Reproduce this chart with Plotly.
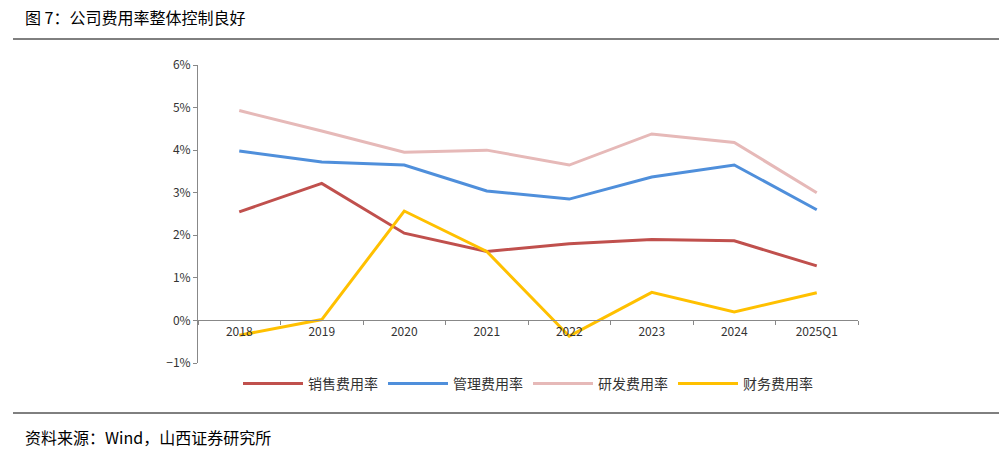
import plotly.graph_objects as go

years = ["2018", "2019", "2020", "2021", "2022", "2023", "2024", "2025Q1"]
sales = [2.55, 3.22, 2.05, 1.62, 1.80, 1.90, 1.87, 1.28]
admin = [3.98, 3.72, 3.65, 3.04, 2.85, 3.37, 3.65, 2.60]
rnd = [4.93, 4.45, 3.95, 4.00, 3.65, 4.38, 4.18, 3.00]
fin = [-0.35, 0.02, 2.57, 1.62, -0.37, 0.66, 0.20, 0.65]
names = ["销售费用率", "管理费用率", "研发费用率", "财务费用率"]
colors = ["#C0504D", "#4F8FDB", "#E6B9B8", "#FFC000"]

fig = go.Figure()
for n, c, v in zip(names, colors, [sales, admin, rnd, fin]):
    fig.add_trace(go.Scatter(x=years, y=v, name=n, mode="lines",
                             line=dict(color=c, width=3)))

W, H = 1007, 454
l, r, t, b = 190, 157, 57, 99
pw = W - l - r
ph = H - t - b
font = "Noto Sans CJK SC"
def px_x(px): return (px - l) / pw
def px_y(py): return 1 - (py - (t + 7)) / (362 - 64)
fig.update_layout(
    width=W, height=H, margin=dict(l=l, r=r, t=t, b=b),
    plot_bgcolor="white", paper_bgcolor="white",
    font=dict(family=font, size=12, color="#333"),
    yaxis=dict(range=[-1, 6], dtick=1, ticksuffix="%", showgrid=False,
               zeroline=False, showline=True, linecolor="#888",
               ticks="outside", ticklen=4, tickcolor="#888"),
    xaxis=dict(anchor="free", position=1/7, showline=True, linecolor="#888",
               ticks="outside", ticklen=4, tickcolor="#888", showgrid=False,
               range=[-0.5, 7.5], tickson="boundaries"),
    legend=dict(orientation="h", x=0.5, xanchor="center", y=px_y(383),
                yanchor="middle", font=dict(size=14), itemwidth=60,
                traceorder="normal"),
    showlegend=True,
)
fig.add_shape(type="line", xref="paper", yref="paper", x0=px_x(5), x1=px_x(1002),
              y0=px_y(38), y1=px_y(38), line=dict(color="#000", width=1))
fig.add_shape(type="line", xref="paper", yref="paper", x0=px_x(5), x1=px_x(1002),
              y0=px_y(412), y1=px_y(412), line=dict(color="#000", width=1))
fig.add_annotation(xref="paper", yref="paper", x=px_x(15), y=px_y(16), xanchor="left",
                   yanchor="middle", showarrow=False, text="图 7：公司费用率整体控制良好",
                   font=dict(size=16, color="#000", family=font))
fig.add_annotation(xref="paper", yref="paper", x=px_x(15), y=px_y(436), xanchor="left",
                   yanchor="middle", showarrow=False, text="资料来源：Wind，山西证券研究所",
                   font=dict(size=16, color="#000", family=font))
fig.write_html("out.html")
